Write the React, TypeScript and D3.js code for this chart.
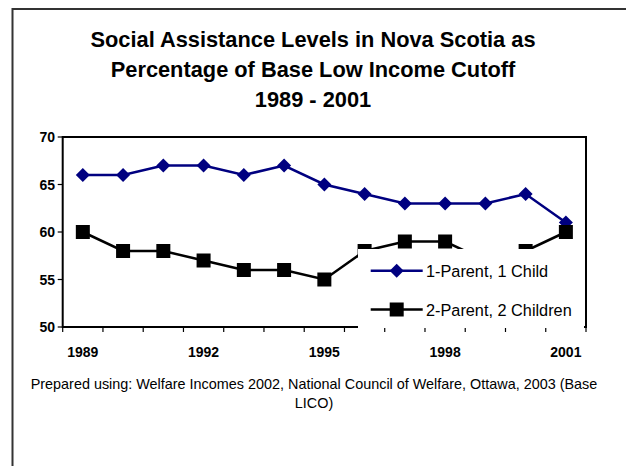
import React from "react";
import * as d3 from "d3";

const years = ["1989","1990","1991","1992","1993","1994","1995","1996","1997","1998","1999","2000","2001"];
const oneParent = [66, 66, 67, 67, 66, 67, 65, 64, 63, 63, 63, 64, 61];
const twoParent = [60, 58, 58, 57, 56, 56, 55, 58, 59, 59, 57, 58, 60];
const yTicks = [50, 55, 60, 65, 70];
const xLabelYears = ["1989", "1992", "1995", "1998", "2001"];
const seriesNames = ["1-Parent, 1 Child", "2-Parent, 2 Children"];
const titleLines = [
  "Social Assistance Levels in Nova Scotia as",
  "Percentage of Base Low Income Cutoff",
  "1989 - 2001",
];
const noteLines = [
  "Prepared using:  Welfare Incomes 2002, National Council of Welfare, Ottawa, 2003 (Base",
  "LICO)",
];

const W = 626, H = 466;
const PL = 62.7, PR = 586, PT = 137, PB = 327;
const FONT = "'Liberation Sans', Arial, sans-serif";
const BLUE = "#000080";

export default function App() {
  const x = d3.scaleBand<string>().domain(years).range([PL, PR]).padding(0);
  const y = d3.scaleLinear().domain([50, 70]).range([PB, PT]);
  const cx = (yr: string) => (x(yr) as number) + x.bandwidth() / 2;
  const line = d3.line<number>().x((_, i) => cx(years[i])).y((d) => y(d));
  const diamond = (px: number, py: number, r = 7) =>
    `M${px},${py - r}L${px + r},${py}L${px},${py + r}L${px - r},${py}Z`;
  const boundaries = years.map((yr) => x(yr) as number).concat([PR]);

  const legX = 358, legY = 249, legW = 226, legH = 79;
  const leg1Y = 270.7, leg2Y = 309.5;

  return (
    <svg width={W} height={H} style={{ position: "fixed", left: 0, top: 0, background: "#fff" }} fontFamily={FONT}>
      <rect x={0} y={0} width={W} height={H} fill="#fff" />
      <path d={`M12.5,${H}V9H${W}`} fill="none" stroke="#333" strokeWidth={2} />
      {titleLines.map((t, i) => (
        <text key={i} x={313} y={46.7 + i * 30} textAnchor="middle" fontWeight="bold" fontSize={21.8} fill="#000">
          {t}
        </text>
      ))}
      {/* plot area border */}
      <rect x={PL} y={PT} width={PR - PL} height={PB - PT} fill="none" stroke="#000" strokeWidth={2} />
      {/* y ticks */}
      {yTicks.map((t) => (
        <g key={t}>
          <line x1={PL - 5} x2={PL} y1={y(t)} y2={y(t)} stroke="#000" strokeWidth={1.2} />
          <text x={55} y={y(t) + 5} textAnchor="end" fontWeight="bold" fontSize={14} fill="#000">{t}</text>
        </g>
      ))}
      {/* x ticks */}
      {boundaries.map((b, i) => (
        <line key={i} x1={b} x2={b} y1={PB} y2={PB + 5} stroke="#000" strokeWidth={1.2} />
      ))}
      {xLabelYears.map((yr) => (
        <text key={yr} x={cx(yr)} y={356.5} textAnchor="middle" fontWeight="bold" fontSize={14} fill="#000">{yr}</text>
      ))}
      {/* series */}
      <path d={line(oneParent) || ""} fill="none" stroke={BLUE} strokeWidth={2.5} />
      {oneParent.map((v, i) => (
        <path key={i} d={diamond(cx(years[i]), y(v))} fill={BLUE} />
      ))}
      <path d={line(twoParent) || ""} fill="none" stroke="#000" strokeWidth={2.5} />
      {twoParent.map((v, i) => (
        <rect key={i} x={cx(years[i]) - 7} y={y(v) - 7} width={14} height={14} fill="#000" />
      ))}
      {/* legend */}
      <rect x={legX} y={legY} width={legW} height={legH} fill="#fff" />
      <line x1={370.7} x2={422.7} y1={leg1Y} y2={leg1Y} stroke={BLUE} strokeWidth={2.5} />
      <path d={diamond(396.7, leg1Y)} fill={BLUE} />
      <text x={426} y={leg1Y + 6} fontSize={16.3} fill="#000">{seriesNames[0]}</text>
      <line x1={370.7} x2={422.7} y1={leg2Y} y2={leg2Y} stroke="#000" strokeWidth={2.5} />
      <rect x={396.7 - 7} y={leg2Y - 7} width={14} height={14} fill="#000" />
      <text x={426} y={leg2Y + 6} fontSize={16.3} fill="#000">{seriesNames[1]}</text>
      {/* note */}
      {noteLines.map((t, i) => (
        <text key={i} x={314} y={389 + i * 19} textAnchor="middle" fontSize={14.4} fill="#000">{t}</text>
      ))}
    </svg>
  );
}
